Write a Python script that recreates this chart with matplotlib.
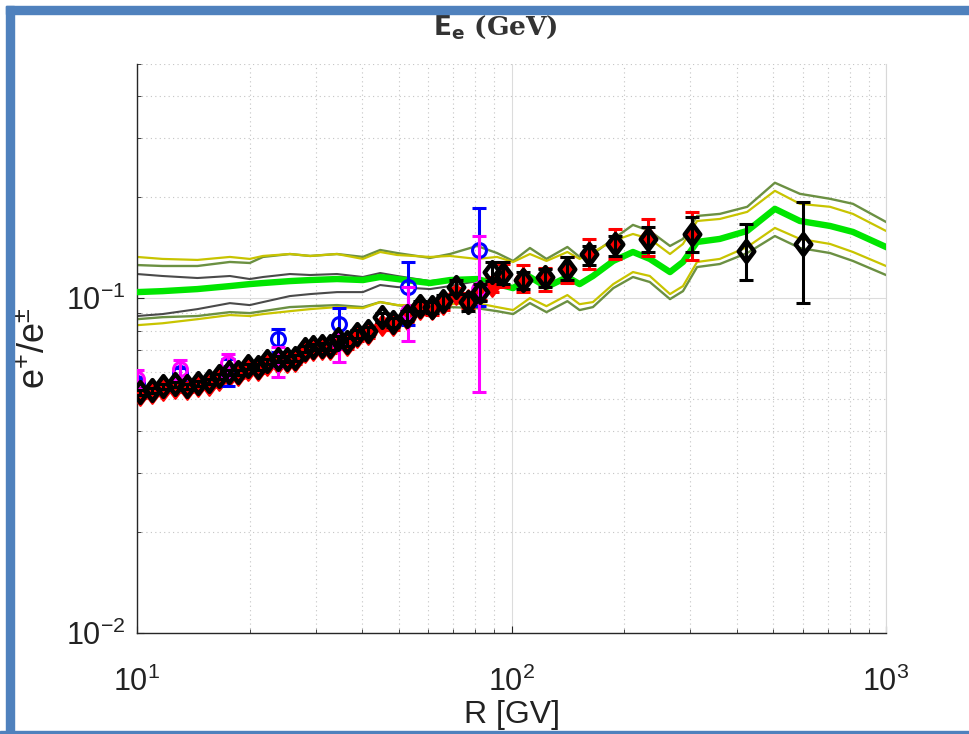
import matplotlib.pyplot as plt
import numpy as np
from matplotlib.patches import Rectangle
from matplotlib.path import Path
from matplotlib.ticker import LogLocator, NullFormatter

plt.rcParams['font.family'] = ['Liberation Sans', 'DejaVu Sans']
plt.rcParams['mathtext.default'] = 'regular'

# model curves: rigidity grid and positron fraction bands
r_model = [10, 11.7, 14.5, 17.7, 20, 21.7, 25.6, 29, 34.2, 40.1, 44.6, 49.5,
           60.6, 68.5, 80.9, 91.5, 101, 112, 124, 141, 152, 165, 187, 211,
           234, 265, 287, 313, 360, 426, 505, 589, 709, 816, 1000]
frac_central = [0.1042, 0.1049, 0.1064, 0.1086, 0.1101, 0.1109, 0.1124, 0.1132,
                0.1140, 0.1132, 0.1156, 0.1140, 0.1109, 0.1132, 0.1140, 0.1101,
                0.1071, 0.1156, 0.1079, 0.1156, 0.1101, 0.1164, 0.1291, 0.1373,
                0.1309, 0.1196, 0.1282, 0.1471, 0.1502, 0.1587, 0.1847, 0.1699,
                0.1642, 0.1576, 0.1421]
frac_yel_hi = [0.1327, 0.1309, 0.1300, 0.1327, 0.1309, 0.1336, 0.1354, 0.1336,
               0.1354, 0.1309, 0.1373, 0.1345, 0.1327, 0.1336, 0.1309, 0.1327,
               0.1282, 0.1354, 0.1291, 0.1373, 0.1309, 0.1373, 0.1482, 0.1554,
               0.1502, 0.1354, 0.1451, 0.1699, 0.1723, 0.1809, 0.2091, 0.1912,
               0.1873, 0.1784, 0.1587]
frac_yel_lo = [0.0830, 0.0841, 0.0865, 0.0890, 0.0884, 0.0896, 0.0914, 0.0927,
               0.0940, 0.0933, 0.0973, 0.0953, 0.0953, 0.0959, 0.0966, 0.0940,
               0.0921, 0.1000, 0.0946, 0.1021, 0.0959, 0.0973, 0.1101, 0.1196,
               0.1164, 0.1028, 0.1086, 0.1282, 0.1309, 0.1421, 0.1620, 0.1502,
               0.1451, 0.1373, 0.1247]
frac_olv_hi = [0.1255, 0.1247, 0.1247, 0.1282, 0.1273, 0.1327, 0.1354, 0.1336,
               0.1354, 0.1327, 0.1392, 0.1363, 0.1318, 0.1354, 0.1431, 0.1363,
               0.1291, 0.1411, 0.1309, 0.1421, 0.1327, 0.1354, 0.1502, 0.1654,
               0.1587, 0.1431, 0.1502, 0.1759, 0.1784, 0.1873, 0.2210, 0.2048,
               0.1979, 0.1912, 0.1688]
frac_olv_lo = [0.0865, 0.0877, 0.0884, 0.0908, 0.0902, 0.0914, 0.0940, 0.0946,
               0.0953, 0.0940, 0.0973, 0.0953, 0.0927, 0.0940, 0.0933, 0.0914,
               0.0896, 0.0966, 0.0908, 0.0979, 0.0921, 0.0940, 0.1071, 0.1156,
               0.1117, 0.0993, 0.1049, 0.1238, 0.1264, 0.1363, 0.1532, 0.1411,
               0.1363, 0.1291, 0.1172]
# grey band only spans the low-rigidity part of the grid
frac_gry_hi = [0.1180, 0.1164, 0.1148, 0.1164, 0.1140, 0.1156, 0.1180, 0.1172,
               0.1180, 0.1156, 0.1188, 0.1164, 0.1124, 0.1140, 0.1140, 0.1101,
               0.1071]
frac_gry_lo = [0.0884, 0.0896, 0.0927, 0.0966, 0.0953, 0.0973, 0.1014, 0.1028,
               0.1042, 0.1042, 0.1094, 0.1079, 0.1064, 0.1086, 0.1124, 0.1094,
               0.1071]

# black diamonds
r_blk = [10.19, 10.97, 11.73, 12.63, 13.60, 14.55, 15.57, 16.56, 17.61, 18.61,
         19.79, 21.04, 22.24, 23.80, 25.15, 26.42, 28.09, 29.51, 31.19, 32.77,
         34.42, 36.37, 38.67, 41.39, 45.10, 48.26, 52.60, 56.98, 61.35, 65.64,
         71.11, 76.53, 82.40, 88.70, 94.9, 107.3, 122.9, 140.7, 161.0, 188.9,
         231.5, 303.4, 422.9, 600.2]
f_blk = [0.0523, 0.0530, 0.0545, 0.0553, 0.0545, 0.0556, 0.0564, 0.0584, 0.0600,
         0.0600, 0.0626, 0.0622, 0.0648, 0.0657, 0.0657, 0.0661, 0.0704, 0.0714,
         0.0718, 0.0718, 0.0754, 0.0739, 0.0780, 0.0797, 0.0877, 0.0847, 0.0884,
         0.0946, 0.0940, 0.0979, 0.1079, 0.0973, 0.1042, 0.1196, 0.1180, 0.1132,
         0.1156, 0.1221, 0.1354, 0.1451, 0.1502, 0.1554, 0.1382, 0.1451]
e_blk_up = [0.0008, 0.0008, 0.0008, 0.0009, 0.0009, 0.0009, 0.0010, 0.0010,
            0.0010, 0.0011, 0.0011, 0.0012, 0.0012, 0.0013, 0.0013, 0.0014,
            0.0015, 0.0016, 0.0017, 0.0018, 0.0019, 0.0020, 0.0022, 0.0024,
            0.0026, 0.0028, 0.0030, 0.0033, 0.0036, 0.0040, 0.0050, 0.0055,
            0.0060, 0.0086, 0.0102, 0.0064, 0.0065, 0.0106, 0.0077, 0.0081,
            0.0129, 0.0187, 0.0283, 0.0484]
e_blk_dn = [0.0008, 0.0008, 0.0008, 0.0009, 0.0009, 0.0009, 0.0010, 0.0010,
            0.0010, 0.0011, 0.0011, 0.0012, 0.0012, 0.0013, 0.0013, 0.0014,
            0.0015, 0.0016, 0.0017, 0.0018, 0.0019, 0.0020, 0.0022, 0.0024,
            0.0026, 0.0028, 0.0030, 0.0033, 0.0036, 0.0040, 0.0050, 0.0055,
            0.0060, 0.0072, 0.0079, 0.0068, 0.0077, 0.0089, 0.0099, 0.0115,
            0.0129, 0.0181, 0.0250, 0.0485]

# red diamonds (same bins, up to ~300 GV)
r_red = r_blk[:42]
f_red = [0.0512, 0.0520, 0.0532, 0.0540, 0.0535, 0.0545, 0.0552, 0.0570, 0.0586,
         0.0588, 0.0612, 0.0610, 0.0633, 0.0642, 0.0645, 0.0648, 0.0690, 0.0700,
         0.0703, 0.0705, 0.0740, 0.0725, 0.0765, 0.0782, 0.0830, 0.0832, 0.0868,
         0.0930, 0.0925, 0.0962, 0.1030, 0.0985, 0.1040, 0.1090, 0.1180, 0.1150,
         0.1140, 0.1209, 0.1354, 0.1451, 0.1520, 0.1540]
e_red_up = [0.0008, 0.0008, 0.0008, 0.0009, 0.0009, 0.0009, 0.0010, 0.0010,
            0.0010, 0.0011, 0.0011, 0.0012, 0.0012, 0.0013, 0.0013, 0.0014,
            0.0015, 0.0016, 0.0017, 0.0018, 0.0019, 0.0020, 0.0022, 0.0024,
            0.0026, 0.0028, 0.0030, 0.0033, 0.0036, 0.0040, 0.0045, 0.0050,
            0.0055, 0.0066, 0.0084, 0.0108, 0.0090, 0.0118, 0.0148, 0.0158,
            0.0203, 0.0269]
e_red_dn = [0.0008, 0.0008, 0.0008, 0.0009, 0.0009, 0.0009, 0.0010, 0.0010,
            0.0010, 0.0011, 0.0011, 0.0012, 0.0012, 0.0013, 0.0013, 0.0014,
            0.0015, 0.0016, 0.0017, 0.0018, 0.0019, 0.0020, 0.0022, 0.0024,
            0.0026, 0.0028, 0.0030, 0.0033, 0.0036, 0.0040, 0.0045, 0.0050,
            0.0055, 0.0048, 0.0101, 0.0107, 0.0090, 0.0100, 0.0133, 0.0142,
            0.0184, 0.0240]

# blue and magenta circles
r_circ = [10.0, 13.0, 17.5, 23.8, 34.6, 52.9, 81.9]
f_blue = [0.0556, 0.0596, 0.0600, 0.0754, 0.0836, 0.1079, 0.1392]
blue_hi = [0.0575, 0.0620, 0.0657, 0.0808, 0.0933, 0.1282, 0.1861]
blue_lo = [0.0535, 0.0570, 0.0545, 0.0689, 0.0770, 0.0830, 0.0946]
f_mag = [0.0572, 0.0613, 0.0639, 0.0648, 0.0739, 0.0908, 0.1064]
mag_hi = [0.0609, 0.0652, 0.0680, 0.0713, 0.0780, 0.1079, 0.1532]
mag_lo = [0.0534, 0.0572, 0.0580, 0.0580, 0.0643, 0.0743, 0.0523]

# diamond a bit wider than matplotlib's 'd'
diamond = Path([(0, 1), (0.75, 0), (0, -1), (-0.75, 0), (0, 1)],
               [Path.MOVETO, Path.LINETO, Path.LINETO, Path.LINETO, Path.CLOSEPOLY])

W, H = 969, 734
fig = plt.figure(figsize=(W / 100, H / 100), dpi=100)
ax = fig.add_axes([137 / W, 1 - 633 / H, 749 / W, 569 / H])

ax.set_xscale('log')
ax.set_yscale('log')
ax.set_xlim(10, 1000)
ax.set_ylim(0.01, 0.5)

# model bands
ax.plot(r_model, frac_olv_hi, color='#6b9042', lw=1.7, zorder=2)
ax.plot(r_model, frac_olv_lo, color='#6b9042', lw=1.7, zorder=2)
ax.plot(r_model, frac_yel_hi, color='#c8c400', lw=1.6, zorder=2)
ax.plot(r_model, frac_yel_lo, color='#c8c400', lw=1.6, zorder=2)
ax.plot(r_model[:17], frac_gry_hi, color='#4a4a4a', lw=1.5, zorder=2)
ax.plot(r_model[:17], frac_gry_lo, color='#4a4a4a', lw=1.5, zorder=2)
ax.plot(r_model, frac_central, color='#00e600', lw=4.6, zorder=3)

# data sets
ax.errorbar(r_red, f_red, yerr=[e_red_dn, e_red_up], fmt='none', ecolor='red',
            elinewidth=2.2, capsize=5, capthick=2.2, zorder=4)
ax.plot(r_red, f_red, ls='none', marker=diamond, ms=15, mfc='red', mec='red',
        mew=1.5, zorder=4)
ax.errorbar(r_circ, f_blue,
            yerr=[np.subtract(f_blue, blue_lo), np.subtract(blue_hi, f_blue)],
            fmt='o', color='blue', ms=10, mfc='none', mew=2.2, elinewidth=2.2,
            capsize=5, capthick=2.2, zorder=5)
ax.errorbar(r_circ, f_mag,
            yerr=[np.subtract(f_mag, mag_lo), np.subtract(mag_hi, f_mag)],
            fmt='o', color='magenta', ms=10, mfc='none', mew=2.2, elinewidth=2.2,
            capsize=5, capthick=2.2, zorder=6)
ax.errorbar(r_blk, f_blk, yerr=[e_blk_dn, e_blk_up], fmt='none', ecolor='black',
            elinewidth=2.2, capsize=5, capthick=2.2, zorder=7)
ax.plot(r_blk, f_blk, ls='none', marker=diamond, ms=15, mfc='none', mec='black',
        mew=3.2, zorder=7)

# axes styling
ax.grid(True, which='major', color='#dcdcdc', lw=0.8, ls='-')
ax.grid(True, which='minor', color='#c4c4c4', lw=0.8, ls=(0, (1, 3)))
ax.set_axisbelow(True)
ax.xaxis.set_minor_locator(LogLocator(base=10, subs=np.arange(2, 10)))
ax.yaxis.set_minor_locator(LogLocator(base=10, subs=np.arange(2, 10)))
ax.xaxis.set_minor_formatter(NullFormatter())
ax.yaxis.set_minor_formatter(NullFormatter())
ax.tick_params(which='both', direction='in', labelsize=22, color='#262626',
               labelcolor='#222222')
ax.tick_params(which='major', length=5)
ax.tick_params(which='minor', length=3)
ax.tick_params(axis='x', pad=24)
ax.tick_params(axis='y', pad=8)
ax.spines['top'].set_visible(False)
ax.spines['right'].set_color('#d8d8d8')
for s in ('left', 'bottom'):
    ax.spines[s].set_color('#262626')
    ax.spines[s].set_linewidth(1.0)

ax.set_xlabel('R [GV]', fontsize=23, labelpad=2, color='#222222')
ax.set_ylabel(r'e$^{+}$/e$^{\pm}$', fontsize=26, labelpad=10, color='#222222')

fig.text(495 / W, 1 - 27 / H, r'$\mathbf{E_e}$ (GeV)', ha='center', va='center',
         fontsize=19, fontweight='bold', family='DejaVu Serif', color='#333333')

# slide frame
frame = '#4f81bd'
fig.patches.append(Rectangle((6 / W, 0), 8 / W, (H - 6) / H, transform=fig.transFigure,
                             color=frame, zorder=10))
fig.patches.append(Rectangle((6 / W, 1 - 14 / H), 1, 8 / H, transform=fig.transFigure,
                             color=frame, zorder=10))
fig.patches.append(Rectangle((0, 0), 1, 3 / H, transform=fig.transFigure,
                             color=frame, zorder=10))

fig.savefig('out.png', dpi=100)
